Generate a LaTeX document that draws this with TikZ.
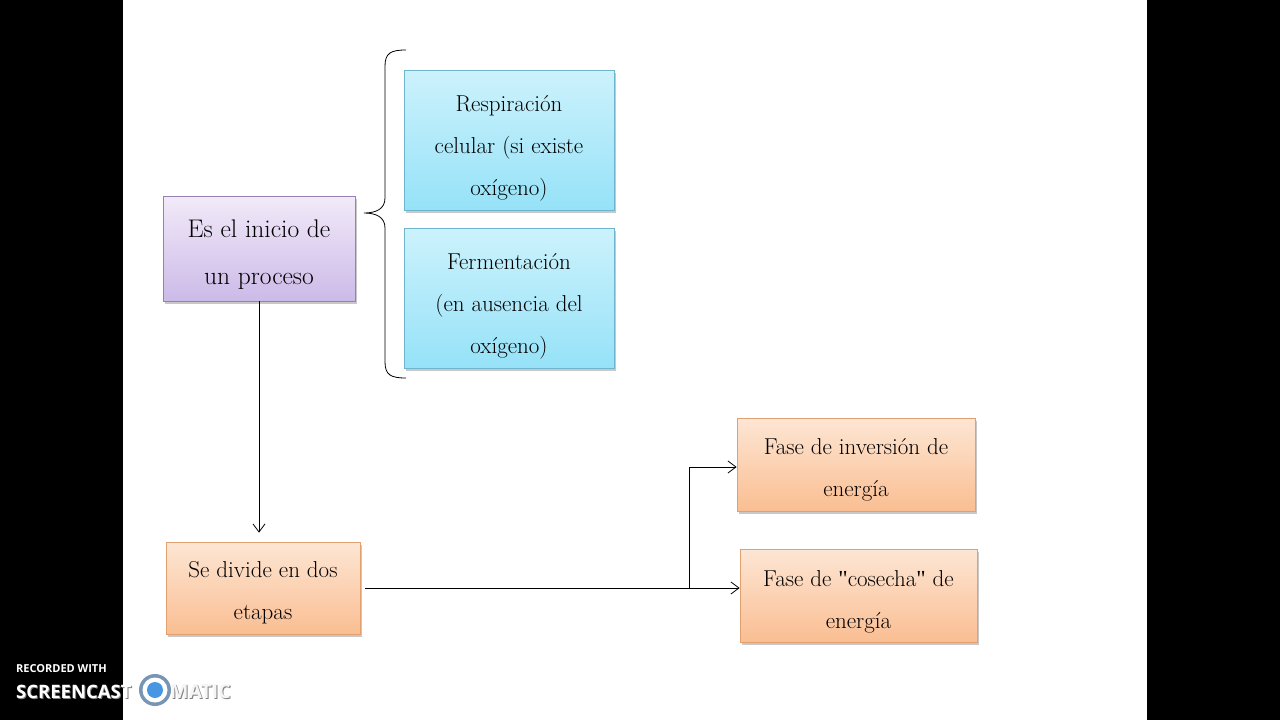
\documentclass[tikz,border=0pt]{standalone}
\usepackage{fontspec}
\newfontfamily\wmfont{Open Sans}
\newfontfamily\qfont{Liberation Serif}
\usetikzlibrary{arrows.meta,shadows}
\definecolor{bluetop}{RGB}{204,242,252}
\definecolor{bluebot}{RGB}{150,226,248}
\definecolor{blueline}{RGB}{110,180,205}
\definecolor{purtop}{RGB}{242,234,249}
\definecolor{purbot}{RGB}{204,186,232}
\definecolor{purline}{RGB}{150,128,180}
\definecolor{ortop}{RGB}{253,230,212}
\definecolor{orbot}{RGB}{250,190,146}
\definecolor{orline}{RGB}{225,160,112}
\definecolor{logoring}{RGB}{120,150,180}
\definecolor{logoblue}{RGB}{70,150,225}
\begin{document}
\begin{tikzpicture}[x=1pt,y=-1pt,
  box/.style={draw, line width=0.8pt, inner sep=0pt,
    drop shadow={shadow xshift=2pt, shadow yshift=-3pt, opacity=0.3, fill=black!70}},
  bluebox/.style={box, draw=blueline, top color=bluetop, bottom color=bluebot},
  purbox/.style={box, draw=purline, top color=purtop, bottom color=purbot},
  orbox/.style={box, draw=orline, top color=ortop, bottom color=orbot},
  boxtext/.style={align=center, inner sep=0pt, font=\fontsize{23}{42}\selectfont},
  bigtext/.style={boxtext, font=\fontsize{25.5}{47}\selectfont},
  arr/.style={-{Straight Barb[length=8pt,width=12pt]}, line width=0.8pt},
  wm/.style={anchor=base west, inner sep=0pt, font=\wmfont\bfseries\fontsize{#1}{#1}\selectfont}
]
\useasboundingbox (0,0) rectangle (1280,720);
\fill[white] (0,0) rectangle (1280,720);
\fill[black] (0,0) rectangle (123,720);
\fill[black] (1147,0) rectangle (1280,720);

\node[purbox, minimum width=192pt, minimum height=105pt] (p) at (259,248.5) {};
\node[bigtext] (pt) at ([yshift=-6.5pt]p.center) {Es el inicio de\\un proceso};
\node[bluebox, minimum width=210pt, minimum height=140pt] (r) at (509,140) {};
\node[boxtext] (rt) at ([yshift=-8.5pt]r.center) {Respiración\\celular (si existe\\oxígeno)};
\node[bluebox, minimum width=210pt, minimum height=140pt] (f) at (509,298) {};
\node[boxtext] (ft) at ([yshift=-8.5pt]f.center) {Fermentación\\(en ausencia del\\oxígeno)};
\node[orbox, minimum width=194pt, minimum height=92pt] (d) at (263,588) {};
\node[boxtext] (dt) at ([yshift=-5pt]d.center) {Se divide en dos\\etapas};
\node[orbox, minimum width=238pt, minimum height=93pt] (i) at (856,464.5) {};
\node[boxtext] (it) at ([yshift=-5.5pt]i.center) {Fase de inversión de\\energía};
\node[orbox, minimum width=237pt, minimum height=93pt] (c) at (858.5,595.5) {};
\node[boxtext] (ct) at ([yshift=-6.5pt]c.center) {Fase de {\qfont\symbol{34}}cosecha{\qfont\symbol{34}} de\\energía};

% brace
\draw[line width=0.8pt] (406,50) .. controls (391,50) and (385,53) .. (385,66)
  -- (385,198) .. controls (385,209) and (376,213) .. (364,213)
  .. controls (376,213) and (385,217) .. (385,228)
  -- (385,362) .. controls (385,375) and (391,378) .. (406,378);

% connectors
\draw[arr, shorten >=9pt] (p.south) -- (p.south |- d.north);
\coordinate (j) at (689,588);
\draw[arr] ([xshift=5pt]d.east) -- (d.east -| c.west);
\draw[arr] (j) |- ([yshift=-2.5pt]i.west);

% watermark
\node[wm=11, text=white] (w1) at (16,672) {RECORDED WITH};
\node[wm=18.5, text=gray] (w2s) at (17,699) {SCREENCAST};
\node[wm=18.5, text=white] (w2) at (16,698) {SCREENCAST};
\fill[logoring] (155,690) circle (16);
\fill[white] (155,690) circle (12.5);
\fill[logoblue] (155,690) circle (8);
\node[wm=19.5, text=gray] (w3s) at (171,699) {MATIC};
\node[wm=19.5, text=white!92!gray] (w3) at (170,698) {MATIC};
\end{tikzpicture}
\end{document}
